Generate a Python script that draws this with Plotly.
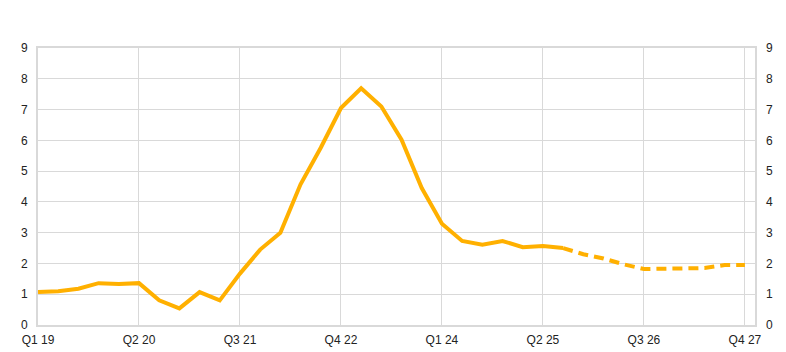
import plotly.graph_objects as go

quarters = list(range(36))
tick_pos = [0, 5, 10, 15, 20, 25, 30, 35]
tick_text = ["Q1 19", "Q2 20", "Q3 21", "Q4 22", "Q1 24", "Q2 25", "Q3 26", "Q4 27"]

actual = [1.07, 1.10, 1.18, 1.36, 1.33, 1.36, 0.80, 0.54, 1.07, 0.80,
          1.67, 2.45, 3.00, 4.57, 5.76, 7.05, 7.69, 7.10, 6.02, 4.45,
          3.29, 2.73, 2.61, 2.73, 2.53, 2.57, 2.50]
projection = [2.50, 2.30, 2.16, 1.97, 1.82, 1.82, 1.82, 1.85, 1.95, 1.95]

color = "#FFB000"
grid = "#D9D9D9"

fig = go.Figure()
fig.add_trace(go.Scatter(x=quarters[:len(actual)], y=actual, mode="lines",
                         line=dict(color=color, width=4), showlegend=False))
fig.add_trace(go.Scatter(x=quarters[len(actual) - 1:], y=projection, mode="lines",
                         line=dict(color=color, width=4, dash="10px,6px"), showlegend=False))
fig.add_trace(go.Scatter(x=[0], y=[None], yaxis="y2", showlegend=False, hoverinfo="skip"))

font = dict(family="Liberation Sans, Arial, sans-serif", size=12, color="#222222")

fig.update_layout(
    width=786, height=352,
    margin=dict(l=38, r=31, t=48, b=27),
    paper_bgcolor="white", plot_bgcolor="white",
    font=font,
    xaxis=dict(range=[0, 35.5], tickmode="array", tickvals=tick_pos, ticktext=tick_text,
               showgrid=True, gridcolor=grid, gridwidth=1, zeroline=False,
               showline=True, linecolor=grid, linewidth=2, mirror=True, automargin=False,
               ticks="", ticklabelstandoff=3, tickfont=font),
    yaxis=dict(range=[0, 9], dtick=1, showgrid=True, gridcolor=grid, gridwidth=1,
               zeroline=False, showline=True, linecolor=grid, linewidth=2, mirror=True,
               automargin=False, ticks="", ticklabelstandoff=6, tickfont=font),
    yaxis2=dict(range=[0, 9], dtick=1, overlaying="y", side="right", showgrid=False,
                zeroline=False, showline=False, ticks="", ticklabelstandoff=10,
                automargin=False, tickfont=font),
)

fig.write_html("out.html")
